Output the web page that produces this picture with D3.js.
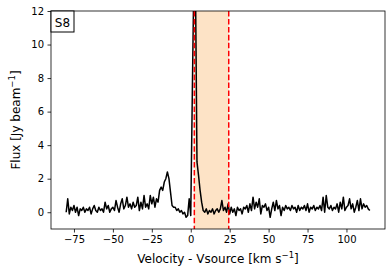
<!DOCTYPE html>
<html><head><meta charset="utf-8">
<script src="https://cdn.jsdelivr.net/npm/d3@7"></script>
<style>body{margin:0;background:#fff}svg{display:block}text{font-family:"DejaVu Sans",sans-serif}</style>
</head><body><svg id="c" width="392" height="276"></svg>
<script>
const velocity = [
-80,-79,-78,-77,-76,-75,-74,-73,-72,-71,-70,-69,-68,-67,-66,-65,-64,-63,-62,-61,
-60,-59,-58,-57,-56,-55,-54,-53,-52,-51,-50,-49,-48,-47,-46,-45,-44,-43,-42,-41,
-40,-39,-38,-37,-36,-35,-34,-33,-32,-31,-30,-29,-28,-27,-26,-25,-24,-23,-22,-21,
-20,-19,-18,-17,-16,-15,-14,-13,-12,-11,-10,-9,-8,-7,-6,-5,-4,-3,-2,-1,
0,1,2,3,4,5,6,7,8,9,10,11,12,13,14,15,16,17,18,19,
20,21,22,23,24,25,26,27,28,29,30,31,32,33,34,35,36,37,38,39,
40,41,42,43,44,45,46,47,48,49,50,51,52,53,54,55,56,57,58,59,
60,61,62,63,64,65,66,67,68,69,70,71,72,73,74,75,76,77,78,79,
80,81,82,83,84,85,86,87,88,89,90,91,92,93,94,95,96,97,98,99,
100,101,102,103,104,105,106,107,108,109,110,111,112,113,114,115];
const flux = [
0.0,0.8,-0.1,0.3,0.1,0.4,0.0,0.3,-0.2,0.2,0.1,0.3,0.0,0.2,0.1,0.3,-0.1,0.2,0.4,0.1,
0.0,0.3,0.1,0.2,0.0,0.6,0.2,0.4,0.0,0.2,0.3,0.1,0.7,0.3,0.0,0.5,0.8,0.2,0.4,0.9,
0.3,0.5,0.2,0.6,0.3,0.4,0.9,0.1,0.6,0.2,1.0,0.3,0.5,0.2,1.0,0.5,0.9,0.3,0.8,0.6,
1.3,1.5,1.3,1.8,2.0,2.4,2.0,1.2,0.4,0.3,0.3,0.1,0.2,0.0,0.1,-0.1,0.0,-0.3,-0.2,0.8,
-0.2,7.0,14.0,14.0,3.0,2.2,1.3,0.6,0.1,0.0,0.2,-0.1,0.1,0.0,0.2,-0.1,0.1,0.2,0.0,0.2,
0.7,0.1,0.3,0.0,0.5,-0.1,0.3,0.0,0.2,-0.2,0.3,0.1,0.2,-0.1,0.3,0.2,0.4,0.0,0.5,0.1,
0.9,0.2,0.6,0.3,0.8,-0.1,0.4,0.3,0.5,0.1,0.3,-0.3,0.2,0.6,0.1,0.7,0.2,0.4,-0.2,0.3,
0.1,0.4,0.2,0.3,0.1,0.4,0.2,0.3,0.0,0.4,0.1,0.3,0.2,0.4,0.1,0.5,0.0,0.3,0.2,0.4,
0.1,0.3,0.2,0.4,0.1,0.9,0.0,1.0,0.3,0.2,0.4,0.1,0.3,0.2,0.5,0.0,0.6,0.2,0.9,0.1,
0.3,0.4,0.8,0.2,0.5,0.0,0.3,0.7,0.1,0.8,0.2,0.5,0.3,0.4,0.2,0.1];
const xTicks = [-75,-50,-25,0,25,50,75,100];
const yTicks = [0,2,4,6,8,10,12];
const windowRange = [2.3, 24.4];
const xDomain = [-89.75, 124.75];
const yDomain = [-1, 12];
const label = "S8";

const svg = d3.select("#c");
const L=51,R=385,T=11,B=229;
const x = d3.scaleLinear().domain(xDomain).range([L,R]);
const y = d3.scaleLinear().domain(yDomain).range([B,T]);
const fmt = d => (d<0?"\u2212":"")+Math.abs(d);

svg.append("defs").append("clipPath").attr("id","clip").append("rect")
  .attr("x",L).attr("y",T).attr("width",R-L).attr("height",B-T);

const g = svg.append("g").attr("clip-path","url(#clip)");
g.append("rect").attr("x",x(windowRange[0])).attr("y",T)
  .attr("width",x(windowRange[1])-x(windowRange[0])).attr("height",B-T)
  .attr("fill","#fde3c6");
g.append("path").datum(velocity.map((v,i)=>[v,flux[i]]))
  .attr("d",d3.line().x(d=>x(d[0])).y(d=>y(d[1])))
  .attr("fill","none").attr("stroke","#000").attr("stroke-width",1.5).attr("stroke-linejoin","round");
windowRange.forEach(v=>{
  g.append("line").attr("x1",x(v)).attr("x2",x(v)).attr("y1",T).attr("y2",B)
   .attr("stroke","#ff0000").attr("stroke-width",1.5).attr("stroke-dasharray","5.55,2.4");
});

const xa = svg.append("g").attr("transform",`translate(0,${B})`)
  .call(d3.axisBottom(x).tickValues(xTicks).tickFormat(fmt).tickSize(3.5).tickPadding(3.5));
const ya = svg.append("g").attr("transform",`translate(${L},0)`)
  .call(d3.axisLeft(y).tickValues(yTicks).tickFormat(fmt).tickSize(3.5).tickPadding(3.5));
[xa,ya].forEach(a=>{a.select(".domain").remove();
  a.selectAll("line").attr("stroke","#000").attr("stroke-width",0.8);
  a.selectAll("text").attr("font-size",10).attr("fill","#000").attr("font-family","DejaVu Sans");});

svg.append("rect").attr("x",L).attr("y",T).attr("width",R-L).attr("height",B-T)
  .attr("fill","none").attr("stroke","#000").attr("stroke-width",0.8);

// label box
svg.append("rect").attr("x",L).attr("y",T).attr("width",23).attr("height",21)
  .attr("fill","#fff").attr("stroke","#000").attr("stroke-width",1);
svg.append("text").attr("x",L+11.5).attr("y",T+15.5).attr("text-anchor","middle")
  .attr("font-size",12).text(label);

const xl = svg.append("text").attr("x",(L+R)/2).attr("y",263).attr("text-anchor","middle").attr("font-size",12);
xl.append("tspan").text("Velocity - Vsource [km s");
xl.append("tspan").attr("dy",-5).attr("font-size",8.5).text("\u22121");
xl.append("tspan").attr("dy",5).text("]");

const yl = svg.append("text").attr("transform",`translate(20,${(T+B)/2}) rotate(-90)`).attr("text-anchor","middle").attr("font-size",12);
yl.append("tspan").text("Flux [Jy beam");
yl.append("tspan").attr("dy",-5).attr("font-size",8.5).text("\u22121");
yl.append("tspan").attr("dy",5).text("]");
</script></body></html>
